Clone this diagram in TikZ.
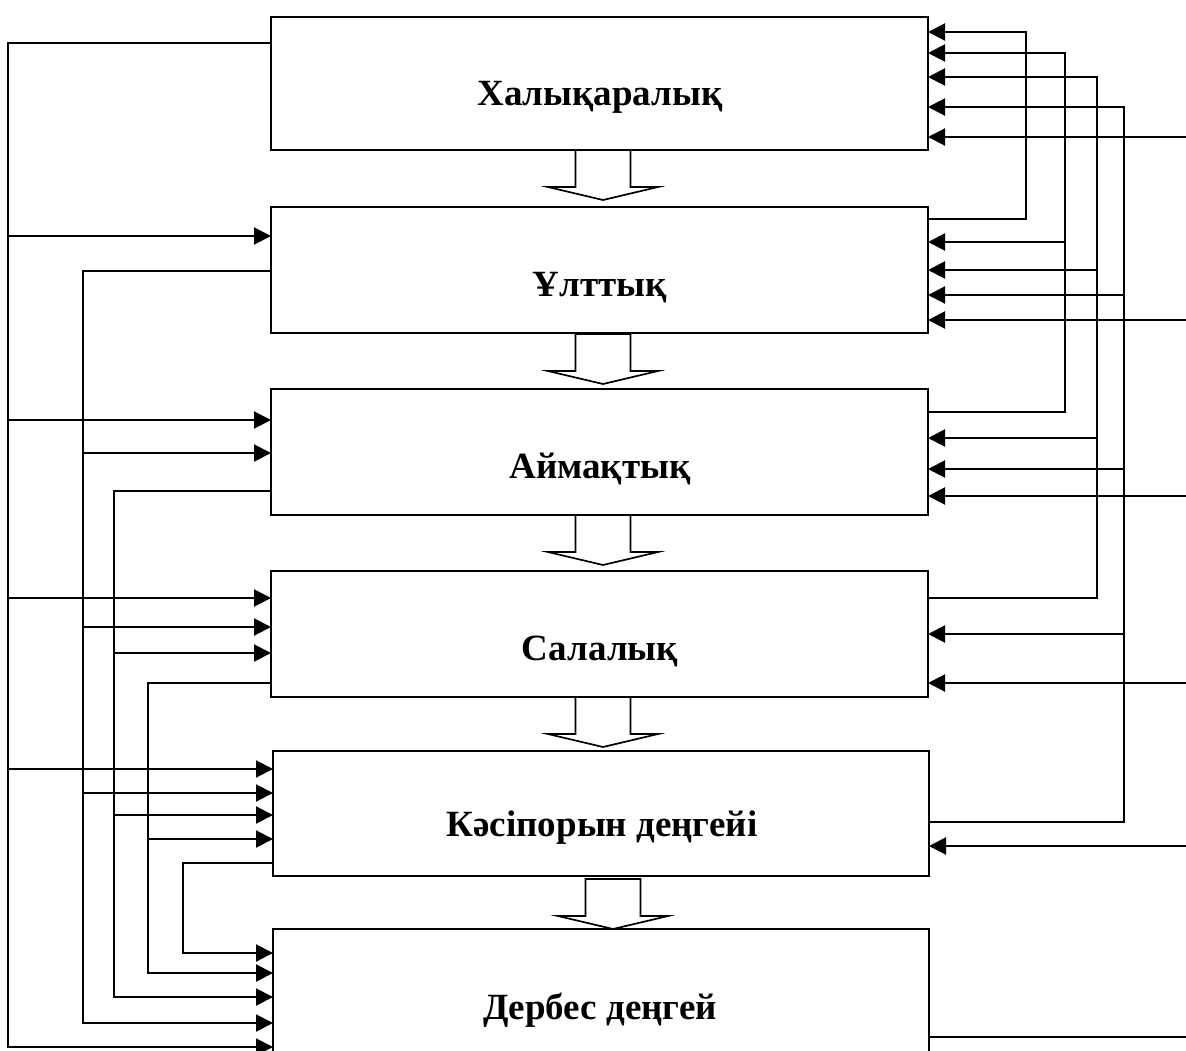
\documentclass[tikz,border=0pt]{standalone}
\usepackage{fontspec}
\setmainfont{Liberation Serif}
\usetikzlibrary{arrows.meta}
\begin{document}
\begin{tikzpicture}[x=1pt,y=-1pt,
  box/.style={draw, line width=1.7pt, minimum width=657pt, inner sep=0pt, outer sep=0pt},
  lbl/.style={anchor=base, font=\fontsize{37}{44}\selectfont\bfseries, inner sep=0pt},
  conn/.style={line width=2.1pt},
  arr/.style={conn, -{Triangle[length=17pt,width=17pt]}},
  hollow/.style={draw, line width=1.7pt, fill=white, line join=miter}]
\useasboundingbox (0,0) rectangle (1186,1050);
\clip (0,0) rectangle (1186,1050);

% boxes
\node[box, minimum height=133pt] (b1) at (599.5,83.5) {};
\node[box, minimum height=126pt] (b2) at (599.5,270) {};
\node[box, minimum height=126pt] (b3) at (599.5,452) {};
\node[box, minimum height=126pt] (b4) at (599.5,634) {};
\node[box, minimum height=125pt, minimum width=656pt] (b5) at (601,813.5) {};
\node[box, minimum height=160pt, minimum width=656pt] (b6) at (601,1009) {};

% labels
\node[lbl] (t1) at (600,105) {Халықаралық};
\node[lbl] (t2) at (600,296) {Ұлттық};
\node[lbl] (t3) at (600,478) {Аймақтық};
\node[lbl] (t4) at (600,660) {Салалық};
\node[lbl] (t5) at (602,836) {Кәсіпорын деңгейі};
\node[lbl] (t6) at (600,1019) {Дербес деңгей};

% hollow arrows between levels
\foreach \cx/\yt in {603/150, 603/334, 603/515, 603/697, 613/879}
  \draw[hollow] (\cx-27.5,\yt) -- (\cx-27.5,\yt+37) -- (\cx-55,\yt+37) -- (\cx,\yt+50)
    -- (\cx+55,\yt+37) -- (\cx+27.5,\yt+37) -- (\cx+27.5,\yt) -- cycle;

% left side vertical rails
\coordinate (vA) at (8,0);
\coordinate (vB) at (83,0);
\coordinate (vC) at (114,0);
\coordinate (vD) at (148,0);
\coordinate (vE) at (183,0);

\draw[arr] (b1.west |- 0,43) -| (vA |- 0,1047) -- (b6.west |- 0,1047);
\draw[arr] (vA |- 0,236) -- (b2.west |- 0,236);
\draw[arr] (vA |- 0,420) -- (b3.west |- 0,420);
\draw[arr] (vA |- 0,598) -- (b4.west |- 0,598);
\draw[arr] (vA |- 0,769) -- (b5.west |- 0,769);

\draw[arr] (b2.west |- 0,271) -| (vB |- 0,1023) -- (b6.west |- 0,1023);
\draw[arr] (vB |- 0,453) -- (b3.west |- 0,453);
\draw[arr] (vB |- 0,627) -- (b4.west |- 0,627);
\draw[arr] (vB |- 0,793) -- (b5.west |- 0,793);

\draw[arr] (b3.west |- 0,491) -| (vC |- 0,997) -- (b6.west |- 0,997);
\draw[arr] (vC |- 0,653) -- (b4.west |- 0,653);
\draw[arr] (vC |- 0,815) -- (b5.west |- 0,815);

\draw[arr] (b4.west |- 0,683) -| (vD |- 0,973) -- (b6.west |- 0,973);
\draw[arr] (vD |- 0,839) -- (b5.west |- 0,839);

\draw[arr] (b5.west |- 0,863) -| (vE |- 0,953) -- (b6.west |- 0,953);

% right side vertical rails
\coordinate (vR1) at (1026,0);
\coordinate (vR2) at (1065,0);
\coordinate (vR3) at (1097,0);
\coordinate (vR4) at (1124,0);
\coordinate (edge) at (1186,0);

\draw[arr] (b2.east |- 0,219) -| (vR1 |- 0,32) -- (b1.east |- 0,32);

\draw[arr] (b3.east |- 0,412) -| (vR2 |- 0,53) -- (b1.east |- 0,53);
\draw[arr] (vR2 |- 0,242) -- (b2.east |- 0,242);

\draw[arr] (b4.east |- 0,598) -| (vR3 |- 0,77) -- (b1.east |- 0,77);
\draw[arr] (vR3 |- 0,270) -- (b2.east |- 0,270);
\draw[arr] (vR3 |- 0,438) -- (b3.east |- 0,438);

\draw[arr] (b5.east |- 0,822) -| (vR4 |- 0,107) -- (b1.east |- 0,107);
\draw[arr] (vR4 |- 0,295) -- (b2.east |- 0,295);
\draw[arr] (vR4 |- 0,469) -- (b3.east |- 0,469);
\draw[arr] (vR4 |- 0,634) -- (b4.east |- 0,634);

\draw[arr] (edge |- 0,137) -- (b1.east |- 0,137);
\draw[arr] (edge |- 0,320) -- (b2.east |- 0,320);
\draw[arr] (edge |- 0,496) -- (b3.east |- 0,496);
\draw[arr] (edge |- 0,683) -- (b4.east |- 0,683);
\draw[arr] (edge |- 0,846) -- (b5.east |- 0,846);
\draw[conn] (b6.east |- 0,1037) -- (edge |- 0,1037);
\end{tikzpicture}
\end{document}
